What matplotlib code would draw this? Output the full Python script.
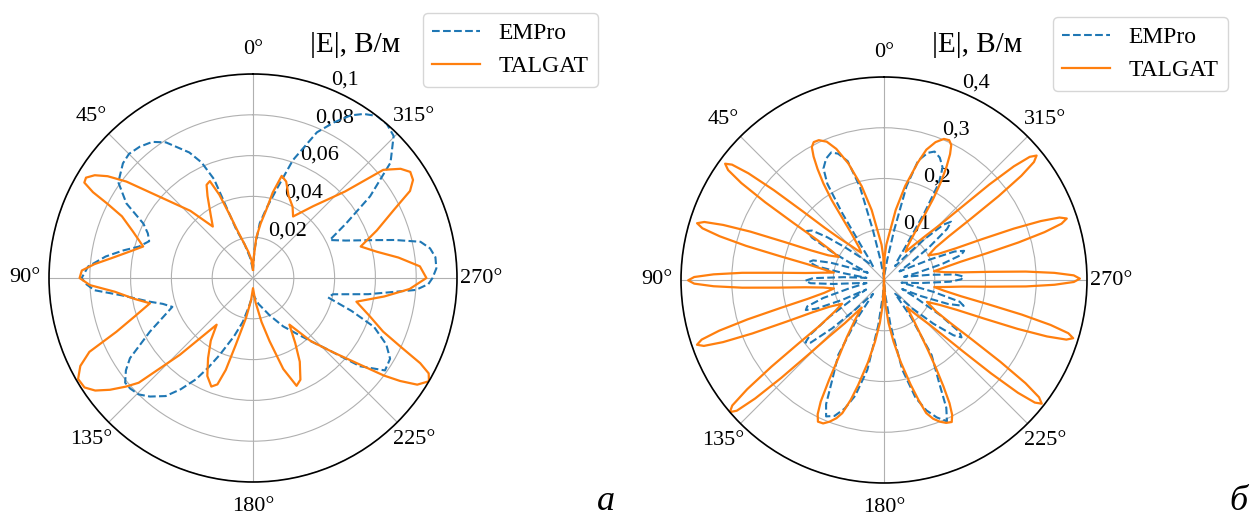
import numpy as np
import matplotlib
matplotlib.use('Agg')
import matplotlib.pyplot as plt

plt.rcParams['font.family'] = ['Liberation Serif', 'DejaVu Serif']

# ---- data (angle in degrees, |E| in V/m) ----

# (a) EMPro, dashed
theta_a_empro = [0, 8, 14, 19, 21.5, 24, 26.9, 32.7, 36.5, 40.8, 45, 48.6, 54.6, 59.5, 63.6, 67,
                 70.5, 74.6, 78, 81.7, 86, 90, 92, 94.4, 97.5, 102.9, 106, 109.7, 114, 117.5,
                 123.1, 126, 129.3, 132, 135.5, 139, 143.5, 147, 150.6, 153.5, 156.6, 162, 167,
                 172, 176, 180, 192, 204, 212, 219, 223, 226, 230.5, 235, 239.5, 243.5, 248,
                 251.5, 255.5, 258.5, 262, 265.8, 268, 270, 273, 276.5, 279.5, 282.2, 285, 288,
                 292, 296.3, 300.4, 304.9, 310, 315.3, 319, 322.6, 326, 329, 332.5, 336.3, 341.3,
                 345.1, 349, 353, 357, 360]
r_a_empro = [0.004, 0.010, 0.017, 0.025, 0.052, 0.062, 0.069, 0.079, 0.083, 0.085, 0.086, 0.085,
             0.081, 0.072, 0.060, 0.056, 0.054, 0.058, 0.065, 0.073, 0.081, 0.084, 0.082, 0.078,
             0.065, 0.052, 0.046, 0.042, 0.049, 0.057, 0.072, 0.077, 0.081, 0.081, 0.080, 0.077,
             0.072, 0.065, 0.057, 0.049, 0.041, 0.030, 0.022, 0.014, 0.010, 0.008, 0.013, 0.020,
             0.028, 0.036, 0.043, 0.050, 0.068, 0.079, 0.078, 0.073, 0.064, 0.051, 0.038, 0.040,
             0.057, 0.080, 0.086, 0.088, 0.090, 0.090, 0.088, 0.084, 0.072, 0.060, 0.049, 0.042,
             0.053, 0.070, 0.088, 0.098, 0.100, 0.100, 0.097, 0.093, 0.086, 0.078, 0.061, 0.045,
             0.035, 0.027, 0.014, 0.004]

# (a) TALGAT, solid
theta_a_talgat = [0, 5, 10, 14, 18, 20, 22, 24, 26.5, 29, 34, 38, 43, 48.5, 52.7, 55, 57, 59, 60.5,
                  61.8, 63, 64.8, 68.9, 74, 78, 82, 85, 87.5, 90, 92.5, 95.7, 100, 103.8, 108,
                  111.5, 114.3, 117, 120, 123, 125.5, 128, 130.5, 132.5, 136.4, 142.1, 146, 150.7,
                  155, 159, 161.5, 163.5, 165.5, 170, 175, 180, 186, 191, 194.7, 198.4, 202, 205,
                  209.2, 213, 218, 222.5, 227.3, 233.3, 235, 237, 239.6, 241.5, 243, 245, 247.6,
                  252, 257.1, 262, 266, 270, 274, 278, 282, 286.3, 291, 295.9, 299, 301.5, 304,
                  306.5, 309.7, 313.2, 320, 326.9, 331, 336.7, 341, 344.3, 347, 349, 352, 355.3,
                  358, 360]
r_a_talgat = [0.004, 0.009, 0.013, 0.017, 0.024, 0.032, 0.044, 0.052, 0.051, 0.046, 0.037, 0.032,
              0.045, 0.059, 0.078, 0.087, 0.0925, 0.0955, 0.095, 0.089, 0.080, 0.071, 0.063,
              0.056, 0.062, 0.070, 0.078, 0.084, 0.085, 0.080, 0.068, 0.059, 0.052, 0.061, 0.072,
              0.088, 0.095, 0.099, 0.0985, 0.095, 0.089, 0.082, 0.076, 0.052, 0.029, 0.037, 0.045,
              0.053, 0.057, 0.055, 0.047, 0.034, 0.020, 0.011, 0.005, 0.012, 0.022, 0.032, 0.047,
              0.057, 0.055, 0.047, 0.038, 0.029, 0.042, 0.054, 0.080, 0.088, 0.096, 0.100, 0.098,
              0.092, 0.080, 0.069, 0.060, 0.052, 0.065, 0.077, 0.085, 0.082, 0.072, 0.062, 0.055,
              0.065, 0.077, 0.088, 0.092, 0.093, 0.090, 0.083, 0.062, 0.046, 0.036, 0.040, 0.044,
              0.050, 0.052, 0.043, 0.034, 0.027, 0.020, 0.010, 0.004]

# (б) EMPro, dashed
theta_b_empro = [0, 6, 10, 12.5, 14.5, 17, 20, 22.5, 25.5, 28.5, 30.5, 32, 33.7, 36,
                 39, 45, 50, 53, 55.5, 57.5, 59.5, 61.5, 63.5,
                 66, 69, 72, 74.5, 76.5, 78.5, 80.5,
                 83, 86, 88.5, 90.5, 92.5, 94.5, 97,
                 100, 103.5, 106.5, 109, 111, 113, 115.5,
                 118, 121, 124, 126.5, 128.5, 130.5, 133, 136, 139,
                 142, 145, 148.6, 152.8, 155, 157, 160, 163, 166, 169.5, 172.8, 176,
                 180, 185, 188.2, 191.5, 195, 198, 201, 204, 206, 208.2, 212.4, 216,
                 219, 222, 225, 228.5, 231.5, 233.5, 235.5, 238, 241,
                 243.5, 246.5, 249.5, 252, 254, 256.5, 259,
                 261.5, 265, 268.5, 270.5, 272.5, 274.5, 276.5,
                 279, 282.5, 285.5, 288, 290, 292, 294, 296.5,
                 299, 302.5, 306, 309, 311, 313, 315.5, 318,
                 321, 325, 327.3, 329, 330.5, 332.5, 335.5, 338.5, 341, 344, 346.5, 348.5, 351,
                 355, 360]
r_b_empro = [0.0, 0.012, 0.04, 0.10, 0.19, 0.245, 0.265, 0.272, 0.265, 0.25, 0.22, 0.155, 0.08, 0.045,
             0.035, 0.06, 0.10, 0.14, 0.172, 0.18, 0.165, 0.12, 0.07,
             0.035, 0.06, 0.11, 0.145, 0.152, 0.135, 0.08,
             0.035, 0.08, 0.14, 0.155, 0.145, 0.10, 0.05,
             0.035, 0.07, 0.125, 0.16, 0.165, 0.145, 0.09,
             0.04, 0.07, 0.13, 0.18, 0.198, 0.19, 0.14, 0.08, 0.045,
             0.035, 0.09, 0.173, 0.225, 0.27, 0.292, 0.285, 0.265, 0.235, 0.18, 0.09, 0.03,
             0.0, 0.03, 0.09, 0.18, 0.24, 0.27, 0.29, 0.305, 0.28, 0.23, 0.175, 0.09,
             0.035, 0.045, 0.08, 0.13, 0.175, 0.19, 0.18, 0.13, 0.07,
             0.04, 0.08, 0.135, 0.165, 0.155, 0.10, 0.05,
             0.035, 0.07, 0.13, 0.152, 0.157, 0.14, 0.09,
             0.04, 0.07, 0.12, 0.16, 0.168, 0.15, 0.10, 0.05,
             0.035, 0.06, 0.11, 0.16, 0.175, 0.16, 0.11, 0.06,
             0.035, 0.045, 0.08, 0.155, 0.22, 0.25, 0.265, 0.272, 0.265, 0.245, 0.19, 0.10, 0.04,
             0.012, 0.0]

# (б) TALGAT, solid
theta_b_talgat = [0, 1.7, 4, 7, 10, 13.4, 17, 20, 22.5, 25, 27, 28.5, 29.7, 30.9, 32.1, 33.2, 33.9,
                  35, 37.5,
                  40, 43.5, 46.8, 48.6, 49.8, 50.8, 51.8, 52.8, 53.8, 54.8, 55.8, 56.8, 57.8, 59,
                  60.8,
                  63, 66.1, 67.9, 69.1, 70.1, 71.1, 72.1, 73.1, 74.1, 75.1, 76.1, 77.1, 78.3, 80.1,
                  81.6, 83.1, 84.9, 86.1, 87.1, 88.1, 89.1, 90.1, 91.1, 92.1, 93.1, 94.1, 95.3, 97.1,
                  99.6, 102.1, 103.9, 105.1, 106.1, 107.1, 108.1, 109.1, 110.1, 111.1, 112.1, 113.1,
                  114.3, 116.1,
                  119.5, 122.6, 125.4, 126.6, 127.6, 128.6, 129.6, 130.6, 131.6, 132.6, 133.6,
                  134.6, 135.8, 137.8,
                  141, 144, 147, 149.7, 151.2, 152.5, 153.7, 155, 157, 159, 161, 162.6, 164.5,
                  166.2, 169, 171.7, 174.5, 177,
                  180, 183.5, 186, 188.8, 191.5, 194.3, 196, 197.6, 199.5, 201.5, 203.5, 205.5,
                  206.8, 208, 209.2, 210.6, 212, 213.5, 216.5,
                  220, 223.5, 225.5, 226.7, 227.9, 228.9, 229.9, 230.9, 231.9, 232.9, 233.9, 234.9,
                  235.9, 237.1, 238.9,
                  243, 245.9, 247.7, 248.9, 249.9, 250.9, 251.9, 252.9, 253.9, 254.9, 255.9, 256.9,
                  258.1, 259.9,
                  262, 263.4, 265.2, 266.4, 267.4, 268.4, 269.4, 270.4, 271.4, 272.4, 273.4, 274.4,
                  275.6, 277.4,
                  280, 281.6, 283.4, 284.6, 285.6, 286.6, 287.6, 288.6, 289.6, 290.6, 291.6, 292.6,
                  293.8, 295.6,
                  299, 302.2, 304, 305.2, 306.2, 307.2, 308.2, 309.2, 310.2, 311.2, 312.2, 313.2,
                  314.6, 316.7, 319.5,
                  322.5, 325, 327, 328, 328.8, 329.9, 331.1, 332.3, 333.5, 335, 337, 339.5, 342,
                  344, 347.3, 350.5, 353.4, 356.2, 358.4, 360]
r_b_talgat = [0.0, 0.046, 0.07, 0.093, 0.14, 0.19, 0.24, 0.275, 0.295, 0.304, 0.305, 0.298, 0.28,
              0.255, 0.225, 0.188, 0.15, 0.112, 0.08,
              0.07, 0.09, 0.12, 0.155, 0.21, 0.28, 0.34, 0.376, 0.388, 0.376, 0.34, 0.28, 0.21,
              0.155, 0.12,
              0.10, 0.12, 0.155, 0.21, 0.28, 0.335, 0.372, 0.385, 0.372, 0.335, 0.28, 0.21, 0.155,
              0.12,
              0.10, 0.12, 0.155, 0.21, 0.28, 0.336, 0.374, 0.386, 0.374, 0.336, 0.28, 0.21, 0.155,
              0.12,
              0.10, 0.12, 0.155, 0.21, 0.28, 0.34, 0.378, 0.39, 0.378, 0.34, 0.28, 0.21,
              0.155, 0.12,
              0.095, 0.115, 0.155, 0.21, 0.28, 0.345, 0.388, 0.40, 0.388, 0.345, 0.28,
              0.21, 0.155, 0.115,
              0.07, 0.097, 0.135, 0.179, 0.225, 0.27, 0.295, 0.308, 0.307, 0.299, 0.288, 0.275,
              0.245, 0.213, 0.165, 0.123, 0.085, 0.05,
              0.0, 0.05, 0.085, 0.123, 0.165, 0.213, 0.245, 0.275, 0.29, 0.30, 0.307, 0.31,
              0.298, 0.275, 0.24, 0.2, 0.165, 0.135, 0.097,
              0.07, 0.10, 0.125, 0.155, 0.21, 0.28, 0.345, 0.383, 0.395, 0.383, 0.345, 0.28,
              0.21, 0.155, 0.12,
              0.095, 0.12, 0.155, 0.21, 0.28, 0.34, 0.378, 0.39, 0.378, 0.34, 0.28, 0.21,
              0.155, 0.12,
              0.10, 0.12, 0.155, 0.21, 0.28, 0.336, 0.374, 0.386, 0.374, 0.336, 0.28, 0.21,
              0.155, 0.12,
              0.10, 0.12, 0.155, 0.21, 0.275, 0.33, 0.367, 0.38, 0.367, 0.33, 0.275, 0.21,
              0.155, 0.12,
              0.10, 0.12, 0.155, 0.21, 0.28, 0.34, 0.376, 0.388, 0.376, 0.34, 0.28, 0.21,
              0.155, 0.12, 0.09,
              0.07, 0.08, 0.112, 0.15, 0.188, 0.225, 0.255, 0.28, 0.297, 0.304, 0.302, 0.29,
              0.27, 0.24, 0.19, 0.14, 0.093, 0.07, 0.046, 0.0]

angle_ticks = [0, 45, 90, 135, 180, 225, 270, 315]
angle_labels = ['0°', '45°', '90°', '135°', '180°', '225°', '270°', '315°']
r_ticks_a = [0.02, 0.04, 0.06, 0.08, 0.1]
r_labels_a = ['0,02', '0,04', '0,06', '0,08', '0,1']
r_ticks_b = [0.1, 0.2, 0.3, 0.4]
r_labels_b = ['0,1', '0,2', '0,3', '0,4']

W, H = 1255, 518
fig = plt.figure(figsize=(W / 100, H / 100), dpi=100)


def make_panel(rect, th_emp, r_emp, th_tal, r_tal, rticks, rlabels, rmax):
    ax = fig.add_axes(rect, projection='polar')
    ax.set_theta_zero_location('N')
    ax.set_theta_direction(1)
    ax.plot(np.deg2rad(th_emp), r_emp, '--', color='#1f77b4', lw=1.5, label='EMPro')
    ax.plot(np.deg2rad(th_tal), r_tal, '-', color='#ff7f0e', lw=1.6, label='TALGAT')
    ax.set_ylim(0, rmax)
    ax.set_rticks(rticks)
    ax.set_yticklabels(rlabels)
    ax.set_rlabel_position(-22.5)
    ax.set_thetagrids(angle_ticks, labels=angle_labels)
    ax.tick_params(axis='x', labelsize=16, pad=7)
    ax.tick_params(axis='y', labelsize=16)
    ax.grid(True, color='#b0b0b0', lw=0.8)
    ax.spines['polar'].set_linewidth(1.2)
    return ax


ax1 = make_panel([49 / W, 36 / H, 408 / W, 408 / H], theta_a_empro, r_a_empro,
                 theta_a_talgat, r_a_talgat, r_ticks_a, r_labels_a, 0.1)
ax2 = make_panel([681 / W, 35 / H, 406 / W, 406 / H], theta_b_empro, r_b_empro,
                 theta_b_talgat, r_b_talgat, r_ticks_b, r_labels_b, 0.4)

ax1.legend(loc='upper left', bbox_to_anchor=(423 / W, 1 - 13 / H), bbox_transform=fig.transFigure,
           borderaxespad=0, fontsize=17)
ax2.legend(loc='upper left', bbox_to_anchor=(1053 / W, 1 - 17 / H), bbox_transform=fig.transFigure,
           borderaxespad=0, fontsize=17)

fig.text(355 / W, 1 - 45 / H, '|E|, В/м', ha='center', va='center', fontsize=21)
fig.text(977 / W, 1 - 45 / H, '|E|, В/м', ha='center', va='center', fontsize=21)

fig.text(606 / W, 1 - 510 / H, 'а', ha='center', va='baseline', fontsize=26, style='italic')
fig.text(1238 / W, 1 - 510 / H, 'б', ha='center', va='baseline', fontsize=26, style='italic')

fig.savefig('out.png', dpi=100)
